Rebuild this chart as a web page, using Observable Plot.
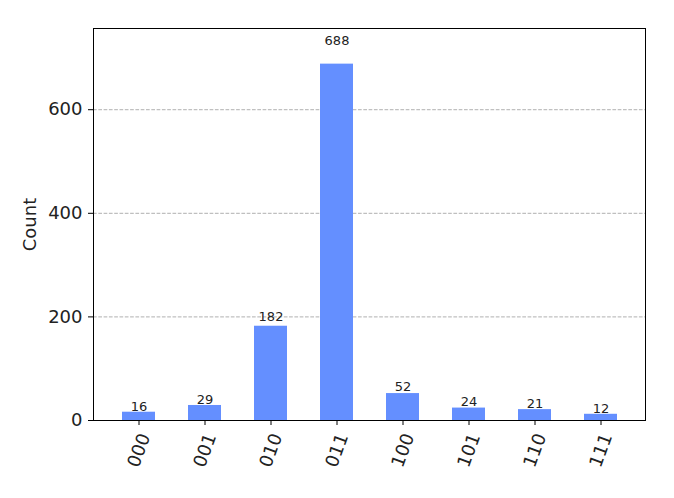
<!DOCTYPE html>
<html>
<head>
<meta charset="utf-8">
<script src="https://cdn.jsdelivr.net/npm/d3@7"></script>
<script src="https://cdn.jsdelivr.net/npm/@observablehq/plot@0.6"></script>
<style>
  html, body { margin: 0; padding: 0; background: #fff; }
  svg { display: block; }
</style>
</head>
<body>
<div id="chart"></div>
<script>
const states = ["000", "001", "010", "011", "100", "101", "110", "111"];
const counts = [16, 29, 182, 688, 52, 24, 21, 12];
const yTicks = [0, 200, 400, 600];
const gridTicks = [200, 400, 600];

const data = states.map((s, i) => ({state: s, count: counts[i]}));
const yMax = d3.max(counts) * 1.1;

const chart = Plot.plot({
  width: 674,
  height: 498,
  marginLeft: 93,
  marginRight: 29,
  marginTop: 28,
  marginBottom: 78,
  style: {fontFamily: "DejaVu Sans, sans-serif", background: "#fff"},
  x: {domain: states, paddingInner: 0.5, paddingOuter: 0.375, axis: null},
  y: {domain: [0, yMax], axis: null},
  marks: [
    Plot.ruleY(gridTicks, {stroke: "#b0b0b0", strokeWidth: 1, strokeDasharray: "3.7,1.6"}),
    Plot.barY(data, {x: "state", y: "count", fill: "#648fff"}),
    Plot.text(data, {x: "state", y: d => d.count * 1.05, text: d => String(d.count), lineAnchor: "bottom", dy: -1, fontSize: 13, fill: "#222"}),
    Plot.frame({stroke: "#000", strokeWidth: 1}),
    Plot.axisY({ticks: yTicks, tickSize: 5, tickPadding: 6, fontSize: 18, label: null, stroke: "#000", color: "#222"}),
    Plot.axisX({tickSize: 5, tickFormat: () => "", label: null, stroke: "#000"}),
    Plot.text(states, {x: d => d, frameAnchor: "bottom", dy: 30, rotate: -70, textAnchor: "middle", lineAnchor: "middle", fontSize: 18, fill: "#222"}),
    Plot.text(["Count"], {frameAnchor: "left", dx: -63, rotate: -90, textAnchor: "middle", lineAnchor: "middle", fontSize: 18, fill: "#222"})
  ]
});
document.getElementById("chart").appendChild(chart);
</script>
</body>
</html>
